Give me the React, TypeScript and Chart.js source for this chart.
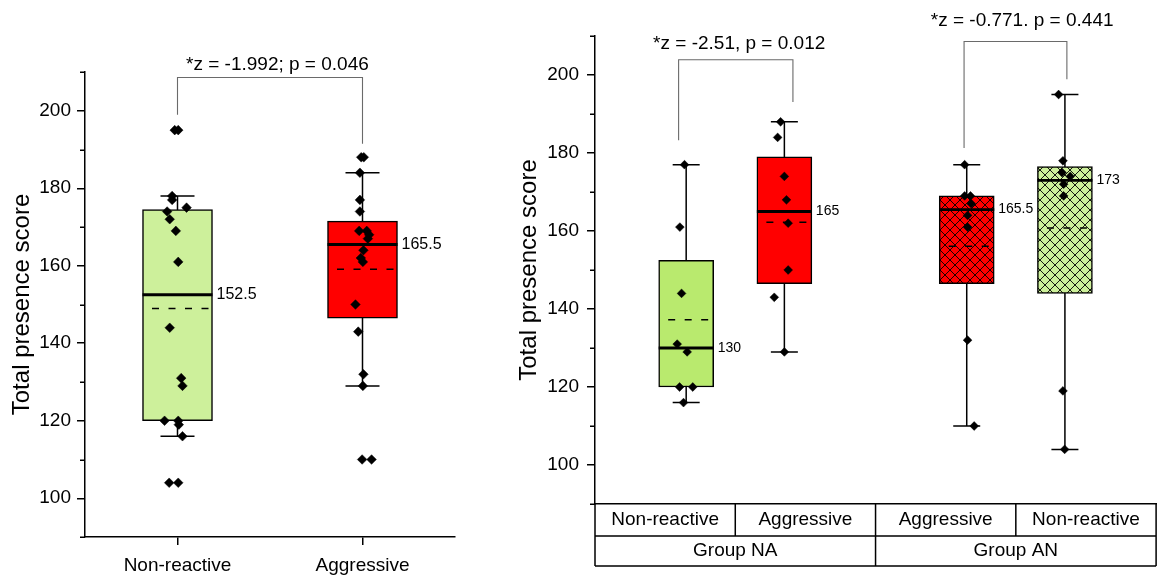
import React, { useEffect, useRef } from "react";
import { Chart, registerables } from "chart.js";

Chart.register(...registerables);

const FONT = "'Liberation Sans', Arial, Helvetica, sans-serif";

// ---------- shared value axis ----------
const yMin = 90;
const yMax = 210;
const yTicks = [100, 120, 140, 160, 180, 200];
const yMinorTicks = [90, 110, 130, 150, 170, 190, 210];
const yTitle = "Total presence score";

// ---------- left panel ----------
const leftCategories = ["Non-reactive", "Aggressive"];
const leftPositions = [1, 2];
const leftNonReactive = [195, 195, 178, 177, 175, 174, 172, 169, 161, 144, 131, 129, 120, 120, 119, 116, 104, 104];
const leftNonReactiveJitter = [-0.015, 0.004, -0.029, -0.029, 0.049, -0.056, -0.042, -0.009, 0.004, -0.042, 0.02, 0.027, -0.07, 0.004, 0.007, 0.027, -0.045, 0.004];
const leftAggressive = [188, 188, 184, 177, 174, 169, 169, 168, 167, 164, 162, 161, 150, 143, 132, 129, 110, 110];
const leftAggressiveJitter = [-0.007, 0.007, -0.014, -0.014, -0.014, -0.018, 0.023, 0.036, 0.029, 0.005, -0.009, 0.002, -0.038, -0.023, 0.005, 0.002, -0.002, 0.049];
const leftQ1 = [120, 146.5];
const leftMedian = [152.5, 165.5];
const leftQ3 = [174.5, 171.5];
const leftWhiskerLow = [116, 129];
const leftWhiskerHigh = [178, 184];
const leftMean = [149.0, 159.1];
const leftTestLabels = ["*z = -1.992; p = 0.046"];
const leftBracketFrom = [1];
const leftBracketTo = [2];
const leftBracketTop = [208.6];
const leftBracketFromEnd = [199];
const leftBracketToEnd = [191.5];
const leftTestLabelX = [1.54];
const leftTestLabelY = [211.9];

// ---------- right panel ----------
const rightCategories = ["Non-reactive", "Aggressive", "Aggressive", "Non-reactive"];
const rightGroups = ["Group NA", "Group AN"];
const rightCategoryBounds = [0, 1, 2, 3, 4];
const rightGroupBounds = [0, 2, 4];
const rightPositions = [0.65, 1.35, 2.65, 3.35];
const naNonReactive = [177, 161, 144, 131, 129, 120, 120, 116];
const naNonReactiveJitter = [-0.012, -0.045, -0.033, -0.064, 0.007, -0.047, 0.047, -0.019];
const naAggressive = [188, 184, 174, 168, 162, 150, 143, 129];
const naAggressiveJitter = [-0.027, -0.048, 0, 0.015, 0.027, 0.027, -0.072, 0];
const anAggressive = [177, 169, 169, 167, 164, 161, 132, 110];
const anAggressiveJitter = [-0.015, -0.015, 0.027, 0.032, 0.006, 0.006, 0.006, 0.053];
const anNonReactive = [195, 178, 175, 174, 172, 169, 119, 104];
const anNonReactiveJitter = [-0.045, -0.014, -0.021, 0.038, -0.009, -0.009, -0.014, -0.002];
const rightQ1 = [120, 146.5, 146.5, 144];
const rightMedian = [130, 165, 165.5, 173];
const rightQ3 = [152.5, 179, 169, 176.5];
const rightWhiskerLow = [116, 129, 110, 104];
const rightWhiskerHigh = [177, 188, 177, 195];
const rightMean = [137.25, 162.25, 156.1, 160.75];
const rightTestLabels = ["*z = -2.51, p = 0.012", "*z = -0.771. p = 0.441"];
const rightBracketFrom = [0.596, 2.631];
const rightBracketTo = [1.411, 3.364];
const rightBracketTop = [203.9, 208.6];
const rightBracketFromEnd = [183.3, 181.3];
const rightBracketToEnd = [193.1, 198.9];
const rightTestLabelX = [1.028, 3.045];
const rightTestLabelY = [208.1, 213.9];

// ---------- colours ----------
const GREEN_LIGHT = "#cdf09b";
const GREEN = "#b9ea6e";
const RED = "#ff0000";

function makeHatch(ctx: CanvasRenderingContext2D, color: string) {
  const c = document.createElement("canvas");
  c.width = 10;
  c.height = 10;
  const g = c.getContext("2d")!;
  g.fillStyle = color;
  g.fillRect(0, 0, 10, 10);
  g.strokeStyle = "#000";
  g.lineWidth = 0.9;
  g.beginPath();
  g.moveTo(-1, -1);
  g.lineTo(11, 11);
  g.moveTo(-1, 11);
  g.lineTo(11, -1);
  g.stroke();
  return ctx.createPattern(c, "repeat")!;
}

type Fill = { color: string; hatch: boolean };

type Panel = {
  id: string;
  positions: number[];
  series: number[][];
  jitter: number[][];
  q1: number[];
  median: number[];
  q3: number[];
  wlo: number[];
  whi: number[];
  mean: number[];
  fills: Fill[];
  barThickness: number;
  capHalf: number;
  medianFont: number;
  pointRadius: number;
  medianWidth: number;
  xMin: number;
  xMax: number;
  xTicks: number[] | null;
  xLabels: string[] | null;
  axisWidth: number;
  xAxisHeight: number;
  padding: { left: number; right: number; top: number; bottom: number };
  titlePad: number;
  tickPad: number;
  tests: string[];
  bFrom: number[];
  bTo: number[];
  bTop: number[];
  bFromEnd: number[];
  bToEnd: number[];
  tX: number[];
  tY: number[];
  table: boolean;
};

function buildChart(canvas: HTMLCanvasElement, p: Panel) {
  const ctx = canvas.getContext("2d")!;
  const fills = p.fills.map((f) => (f.hatch ? makeHatch(ctx, f.color) : f.color));
  const points: { x: number; y: number }[] = [];
  p.series.forEach((vals, i) =>
    vals.forEach((v, j) => points.push({ x: p.positions[i] + p.jitter[i][j], y: v }))
  );

  const plugin = {
    id: "boxplot-" + p.id,
    beforeDatasetsDraw(chart: any) {
      const { ctx: c, scales } = chart;
      const x = scales.x;
      const y = scales.y;
      c.save();
      c.strokeStyle = "#000";
      c.lineWidth = 1.5;
      p.positions.forEach((pos, i) => {
        const cx = x.getPixelForValue(pos);
        const yl = y.getPixelForValue(p.wlo[i]);
        const yh = y.getPixelForValue(p.whi[i]);
        c.beginPath();
        c.moveTo(cx, yh);
        c.lineTo(cx, yl);
        c.moveTo(cx - p.capHalf, yh);
        c.lineTo(cx + p.capHalf, yh);
        c.moveTo(cx - p.capHalf, yl);
        c.lineTo(cx + p.capHalf, yl);
        c.stroke();
      });
      c.restore();
    },
    afterDatasetDraw(chart: any, args: any) {
      if (args.meta.type !== "bar") return;
      const { ctx: c, scales } = chart;
      const y = scales.y;
      c.save();
      c.strokeStyle = "#000";
      args.meta.data.forEach((bar: any, i: number) => {
        const { x: bx, width } = bar.getProps(["x", "width"], true);
        const l = bx - width / 2;
        const r = bx + width / 2;
        const ym = y.getPixelForValue(p.median[i]);
        c.setLineDash([]);
        c.lineWidth = p.medianWidth;
        c.beginPath();
        c.moveTo(l, ym);
        c.lineTo(r, ym);
        c.stroke();
        const ya = y.getPixelForValue(p.mean[i]);
        c.lineWidth = 1.5;
        c.setLineDash([7, 9.5]);
        c.lineDashOffset = 7;
        c.beginPath();
        c.moveTo(l, ya);
        c.lineTo(r, ya);
        c.stroke();
      });
      c.restore();
    },
    afterDraw(chart: any) {
      const { ctx: c, scales, chartArea } = chart;
      const x = scales.x;
      const y = scales.y;
      c.save();
      // minor ticks
      c.strokeStyle = "#000";
      c.lineWidth = 1.5;
      c.beginPath();
      yMinorTicks.forEach((v) => {
        const py = Math.round(y.getPixelForValue(v)) + 0.25;
        c.moveTo(chartArea.left - 5, py);
        c.lineTo(chartArea.left, py);
      });
      c.stroke();
      // median labels
      const bars = chart.getDatasetMeta(0).data;
      c.fillStyle = "#000";
      c.font = `${p.medianFont}px ${FONT}`;
      c.textAlign = "left";
      c.textBaseline = "middle";
      bars.forEach((bar: any, i: number) => {
        const { x: bx, width } = bar.getProps(["x", "width"], true);
        c.fillText(String(p.median[i]), bx + width / 2 + 4, y.getPixelForValue(p.median[i]));
      });
      // brackets
      c.strokeStyle = "#6a6a6a";
      c.lineWidth = 1.1;
      p.tests.forEach((t, i) => {
        const x1 = x.getPixelForValue(p.bFrom[i]);
        const x2 = x.getPixelForValue(p.bTo[i]);
        const yt = y.getPixelForValue(p.bTop[i]);
        c.beginPath();
        c.moveTo(x1, y.getPixelForValue(p.bFromEnd[i]));
        c.lineTo(x1, yt);
        c.lineTo(x2, yt);
        c.lineTo(x2, y.getPixelForValue(p.bToEnd[i]));
        c.stroke();
        c.font = `19px ${FONT}`;
        c.textAlign = "center";
        c.textBaseline = "middle";
        c.fillText(t, x.getPixelForValue(p.tX[i]), y.getPixelForValue(p.tY[i]));
      });
      // category table (right panel)
      if (p.table) {
        const top = chartArea.bottom;
        const r1 = top + 32;
        const r2 = top + 62;
        c.strokeStyle = "#000";
        c.lineWidth = 1.5;
        c.beginPath();
        rightCategoryBounds.forEach((b) => {
          const px = x.getPixelForValue(b);
          c.moveTo(px, top);
          c.lineTo(px, r1);
        });
        rightGroupBounds.forEach((b) => {
          const px = x.getPixelForValue(b);
          c.moveTo(px, r1);
          c.lineTo(px, r2);
        });
        const xl = x.getPixelForValue(rightCategoryBounds[0]);
        const xr = x.getPixelForValue(rightCategoryBounds[rightCategoryBounds.length - 1]);
        c.moveTo(xl, r1);
        c.lineTo(xr, r1);
        c.moveTo(xl, r2);
        c.lineTo(xr, r2);
        c.stroke();
        c.font = `19px ${FONT}`;
        c.textAlign = "center";
        c.textBaseline = "middle";
        rightCategories.forEach((lab, i) => {
          const cx = (x.getPixelForValue(rightCategoryBounds[i]) + x.getPixelForValue(rightCategoryBounds[i + 1])) / 2;
          c.fillText(lab, cx, (top + r1) / 2);
        });
        rightGroups.forEach((lab, i) => {
          const cx = (x.getPixelForValue(rightGroupBounds[i]) + x.getPixelForValue(rightGroupBounds[i + 1])) / 2;
          c.fillText(lab, cx, (r1 + r2) / 2);
        });
      }
      c.restore();
    },
  };

  const xScale: any = {
    type: "linear",
    min: p.xMin,
    max: p.xMax,
    offset: false,
    border: { display: true, color: "#000", width: 1.5 },
    afterFit: (s: any) => {
      s.height = p.xAxisHeight;
    },
  };
  if (p.xTicks) {
    xScale.afterBuildTicks = (s: any) => {
      s.ticks = p.xTicks!.map((v) => ({ value: v }));
    };
    xScale.ticks = {
      callback: (_v: any, i: number) => p.xLabels![i],
      color: "#000",
      font: { family: FONT, size: 19 },
      padding: 9,
      maxRotation: 0,
      autoSkip: false,
    };
    xScale.grid = {
      display: true,
      offset: false,
      drawOnChartArea: false,
      drawTicks: true,
      tickLength: 8,
      tickWidth: 1.5,
      color: "#000",
      lineWidth: 1.5,
    };
  } else {
    xScale.ticks = { display: false };
    xScale.grid = { display: false, offset: false, drawTicks: false };
  }

  return new Chart(ctx, {
    type: "scatter",
    data: {
      datasets: [
        {
          type: "bar",
          data: p.positions.map((pos, i) => ({ x: pos, y: [p.q1[i], p.q3[i]] })) as any,
          backgroundColor: fills as any,
          borderColor: "#000",
          borderWidth: 1.5,
          borderSkipped: false,
          barThickness: p.barThickness,
          order: 1,
        } as any,
        {
          type: "scatter",
          data: points,
          pointStyle: "rectRot",
          pointRadius: p.pointRadius,
          pointBackgroundColor: "#000",
          pointBorderColor: "#000",
          pointBorderWidth: 0.5,
          order: 0,
        } as any,
      ],
    },
    options: {
      animation: false,
      responsive: false,
      devicePixelRatio: 1,
      events: [],
      layout: { padding: p.padding },
      plugins: { legend: { display: false }, tooltip: { enabled: false } },
      scales: {
        x: xScale,
        y: {
          type: "linear",
          min: yMin,
          max: yMax,
          afterBuildTicks: (s: any) => {
            s.ticks = yTicks.map((v) => ({ value: v }));
          },
          ticks: { color: "#000", font: { family: FONT, size: 19 }, padding: p.tickPad },
          grid: {
            display: true,
            drawOnChartArea: false,
            drawTicks: true,
            tickLength: 8,
            tickWidth: 1.5,
            color: "#000",
            lineWidth: 1.5,
          },
          border: { display: true, color: "#000", width: 1.5 },
          title: {
            display: true,
            text: yTitle,
            color: "#000",
            font: { family: FONT, size: 24 },
            padding: { top: p.titlePad, bottom: 0 },
          },
          afterFit: (s: any) => {
            s.width = p.axisWidth;
          },
        } as any,
      },
    },
    plugins: [plugin],
  });
}

const leftPanel: Panel = {
  id: "left",
  positions: leftPositions,
  series: [leftNonReactive, leftAggressive],
  jitter: [leftNonReactiveJitter, leftAggressiveJitter],
  q1: leftQ1,
  median: leftMedian,
  q3: leftQ3,
  wlo: leftWhiskerLow,
  whi: leftWhiskerHigh,
  mean: leftMean,
  fills: [
    { color: GREEN_LIGHT, hatch: false },
    { color: RED, hatch: false },
  ],
  barThickness: 70,
  capHalf: 17,
  medianFont: 16,
  pointRadius: 4.8,
  medianWidth: 3,
  xMin: 0.5,
  xMax: 2.5,
  xTicks: leftPositions,
  xLabels: leftCategories,
  axisWidth: 85,
  xAxisHeight: 40,
  padding: { left: 0, right: 15, top: 72, bottom: 0 },
  titlePad: 8,
  tickPad: 6,
  tests: leftTestLabels,
  bFrom: leftBracketFrom,
  bTo: leftBracketTo,
  bTop: leftBracketTop,
  bFromEnd: leftBracketFromEnd,
  bToEnd: leftBracketToEnd,
  tX: leftTestLabelX,
  tY: leftTestLabelY,
  table: false,
};

const rightPanel: Panel = {
  id: "right",
  positions: rightPositions,
  series: [naNonReactive, naAggressive, anAggressive, anNonReactive],
  jitter: [naNonReactiveJitter, naAggressiveJitter, anAggressiveJitter, anNonReactiveJitter],
  q1: rightQ1,
  median: rightMedian,
  q3: rightQ3,
  wlo: rightWhiskerLow,
  whi: rightWhiskerHigh,
  mean: rightMean,
  fills: [
    { color: GREEN, hatch: false },
    { color: RED, hatch: false },
    { color: RED, hatch: true },
    { color: GREEN_LIGHT, hatch: true },
  ],
  barThickness: 55,
  capHalf: 13.5,
  medianFont: 14,
  pointRadius: 4.4,
  medianWidth: 2.8,
  xMin: 0,
  xMax: 4,
  xTicks: null,
  xLabels: null,
  axisWidth: 115,
  xAxisHeight: 73,
  padding: { left: 0, right: 2, top: 36, bottom: 0 },
  titlePad: 35,
  tickPad: 8,
  tests: rightTestLabels,
  bFrom: rightBracketFrom,
  bTo: rightBracketTo,
  bTop: rightBracketTop,
  bFromEnd: rightBracketFromEnd,
  bToEnd: rightBracketToEnd,
  tX: rightTestLabelX,
  tY: rightTestLabelY,
  table: true,
};

export default function App() {
  const leftRef = useRef<HTMLCanvasElement>(null);
  const rightRef = useRef<HTMLCanvasElement>(null);
  useEffect(() => {
    const a = buildChart(leftRef.current!, leftPanel);
    const b = buildChart(rightRef.current!, rightPanel);
    return () => {
      a.destroy();
      b.destroy();
    };
  }, []);
  return (
    <div
      style={{
        position: "fixed",
        left: 0,
        top: 0,
        width: 1161,
        height: 577,
        background: "#fff",
        overflow: "hidden",
      }}
    >
      <canvas ref={leftRef} width={470} height={577} style={{ position: "absolute", left: 0, top: 0 }} />
      <canvas ref={rightRef} width={681} height={577} style={{ position: "absolute", left: 480, top: 0 }} />
    </div>
  );
}
